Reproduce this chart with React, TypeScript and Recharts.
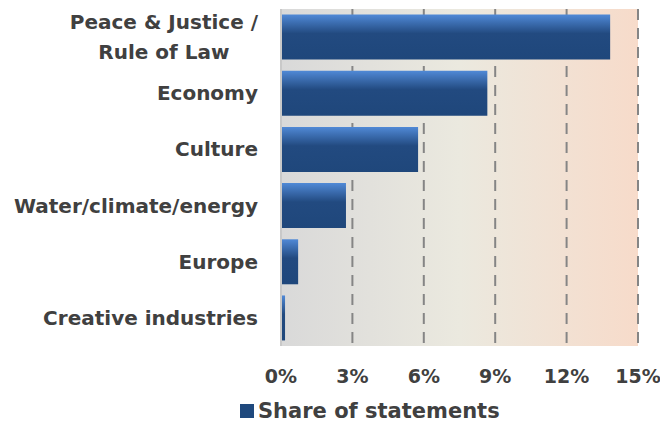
import { Bar, BarChart, CartesianGrid, Legend, XAxis, YAxis } from "recharts";

const categories = [
  "Peace & Justice /\nRule of Law",
  "Economy",
  "Culture",
  "Water/climate/energy",
  "Europe",
  "Creative industries",
];
const shareValues = [13.83, 8.67, 5.76, 2.73, 0.72, 0.17];
const xTicks = [0, 3, 6, 9, 12, 15];
const seriesName = "Share of statements";

const data = categories.map((name, i) => ({ name, share: shareValues[i] }));

const FONT = "'DejaVu Sans', sans-serif";
const TEXT_COLOR = "#404040";

let measureCtx: CanvasRenderingContext2D | null = null;
const measure = (text: string, size: number) => {
  if (!measureCtx) measureCtx = document.createElement("canvas").getContext("2d");
  if (!measureCtx) return text.length * size * 0.6;
  measureCtx.font = `bold ${size}px 'DejaVu Sans'`;
  return measureCtx.measureText(text).width;
};

const CategoryTick = (props: any) => {
  const { x, y, payload } = props;
  const lines: string[] = String(payload.value).split("\n");
  if (lines.length === 1) {
    return (
      <text x={x} y={y} dy="0.35em" textAnchor="end" fill={TEXT_COLOR}
        fontFamily={FONT} fontWeight="bold" fontSize={20}>
        {lines[0]}
      </text>
    );
  }
  // multi-line labels: lines centred on each other, block right aligned
  const w = Math.max(...lines.map((l) => measure(l, 20)));
  const lineH = 30;
  const top = y - ((lines.length - 1) * lineH) / 2;
  return (
    <text textAnchor="middle" fill={TEXT_COLOR} fontFamily={FONT}
      fontWeight="bold" fontSize={20}>
      {lines.map((l, i) => (
        <tspan key={i} x={x - w / 2} y={top + i * lineH} dy="0.35em">
          {l}
        </tspan>
      ))}
    </text>
  );
};

const LegendContent = () => (
  <div style={{ display: "flex", alignItems: "center", fontFamily: FONT,
    fontWeight: "bold", fontSize: 21, color: TEXT_COLOR, height: 33 }}>
    <span style={{ display: "inline-block", width: 14, height: 14,
      background: "#1f497d", marginRight: 4 }} />
    <span>{seriesName}</span>
  </div>
);

export default function App() {
  return (
    <div style={{ position: "absolute", left: 0, top: 0 }}>
      <BarChart
        width={660}
        height={427}
        data={data}
        layout="vertical"
        barCategoryGap="10%"
        margin={{ top: 9, right: 22, left: 0, bottom: 8 }}
      >
        <defs>
          <linearGradient id="bgGrad" x1="0" y1="0" x2="1" y2="0">
            <stop offset="0%" stopColor="#d9d9d9" />
            <stop offset="50%" stopColor="#ebe9df" />
            <stop offset="100%" stopColor="#f7dbca" />
          </linearGradient>
          <linearGradient id="barGrad" x1="0" y1="0" x2="0" y2="1">
            <stop offset="0%" stopColor="#5089d6" />
            <stop offset="42%" stopColor="#224a80" />
            <stop offset="100%" stopColor="#1f477b" />
          </linearGradient>
        </defs>
        <CartesianGrid
          horizontal={false}
          fill="url(#bgGrad)"
          fillOpacity={1}
          stroke="#858585"
          strokeWidth={2}
          strokeDasharray="11 8"
        />
        <XAxis
          type="number"
          domain={[0, 15]}
          ticks={xTicks}
          tickFormatter={(v) => `${v}%`}
          axisLine={false}
          tickLine={false}
          tickSize={0}
          tickMargin={24}
          height={40}
          interval={0}
          tick={{ fill: TEXT_COLOR, fontFamily: FONT, fontWeight: "bold", fontSize: 19 }}
        />
        <YAxis
          type="category"
          dataKey="name"
          width={281}
          tickLine={false}
          tickSize={0}
          tickMargin={23}
          interval={0}
          axisLine={{ stroke: "#c9c9c9", strokeWidth: 2 }}
          tick={<CategoryTick />}
        />
        <Legend
          verticalAlign="bottom"
          height={33}
          content={<LegendContent />}
          wrapperStyle={{ left: 240, width: 300, bottom: 0 }}
        />
        <Bar
          dataKey="share"
          name={seriesName}
          fill="url(#barGrad)"
          isAnimationActive={false}
        />
      </BarChart>
    </div>
  );
}
